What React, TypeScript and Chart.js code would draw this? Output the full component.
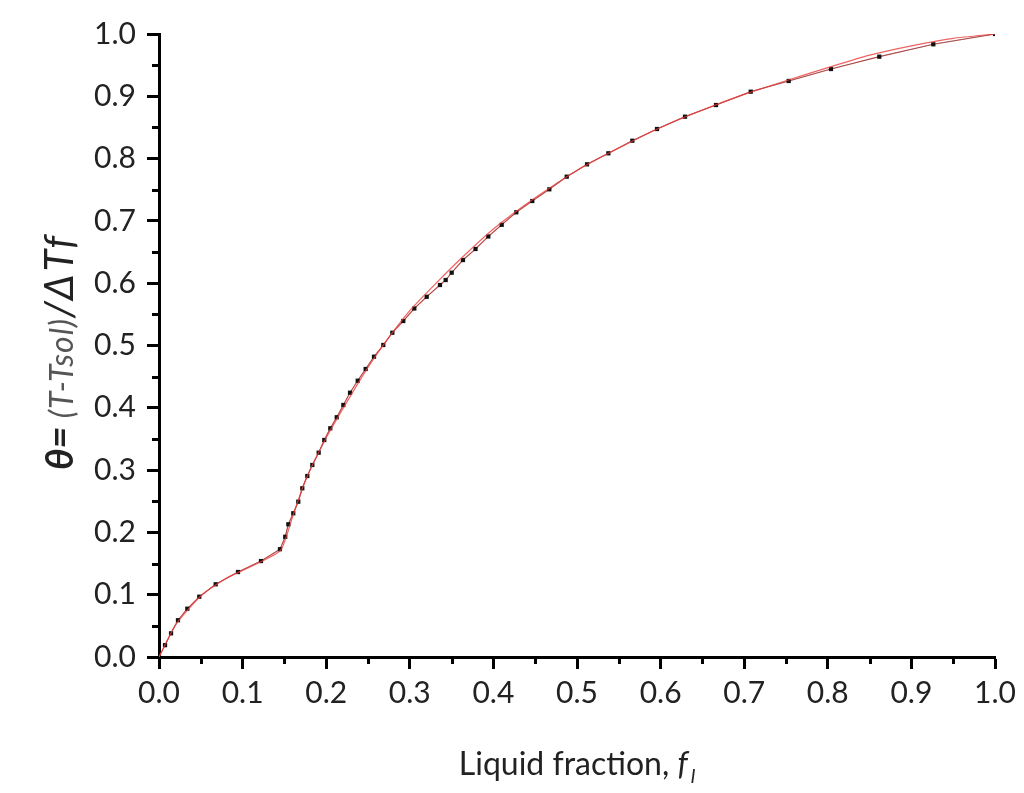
import React, { useEffect, useRef } from "react";
import { Chart, registerables } from "chart.js";

Chart.register(...registerables);

// Black square markers (simulation points)
const markerX = [
  0.0072, 0.0144, 0.0227, 0.0339, 0.0482, 0.0678, 0.0945, 0.122, 0.1447, 0.151,
  0.1547, 0.1606, 0.1666, 0.1714, 0.1774, 0.1834, 0.191, 0.1977, 0.2049, 0.2126,
  0.2205, 0.2285, 0.2377, 0.2472, 0.2572, 0.2683, 0.2791, 0.2922, 0.3054, 0.3202,
  0.3361, 0.3429, 0.3501, 0.3636, 0.3786, 0.3939, 0.4099, 0.4274, 0.4465, 0.4669,
  0.4877, 0.512, 0.5375, 0.5662, 0.5957, 0.6292, 0.6663, 0.7078, 0.7532, 0.8038,
  0.8616, 0.9262, 1.0,
];
const markerY = [
  0.019, 0.038, 0.059, 0.0775, 0.0968, 0.1167, 0.1364, 0.154, 0.173, 0.193,
  0.213, 0.2307, 0.2493, 0.2708, 0.2905, 0.3082, 0.328, 0.3483, 0.3671, 0.3848,
  0.4045, 0.4242, 0.4435, 0.4623, 0.482, 0.5008, 0.5205, 0.5393, 0.5594, 0.5782,
  0.5971, 0.6051, 0.6169, 0.6372, 0.6549, 0.675, 0.6937, 0.7138, 0.7319, 0.7507,
  0.771, 0.7908, 0.8085, 0.8287, 0.8475, 0.8673, 0.886, 0.9074, 0.9246, 0.9438,
  0.9636, 0.9835, 1.0,
];

// Red curve A (follows the markers)
const redAX = [0, ...markerX];
const redAY = [0, ...markerY];

// Red curve B (second red curve, slightly apart in places)
const redBX = [0, 0.02, 0.05, 0.08, 0.1, 0.125, 0.146, 0.16, 0.175, 0.2, 0.225, 0.25, 0.275, 0.3, 0.33, 0.36, 0.4, 0.45, 0.5, 0.55, 0.6, 0.65, 0.7, 0.75, 0.8, 0.85, 0.9, 0.95, 1.0];
const redBY = [0, 0.052, 0.098, 0.126, 0.139, 0.155, 0.172, 0.226, 0.283, 0.352, 0.41, 0.465, 0.513, 0.556, 0.598, 0.638, 0.687, 0.737, 0.781, 0.817, 0.85, 0.878, 0.903, 0.925, 0.946, 0.966, 0.981, 0.993, 1.0];

const tickLabels = ["0.0", "0.1", "0.2", "0.3", "0.4", "0.5", "0.6", "0.7", "0.8", "0.9", "1.0"];
const minorTicks = [0.05, 0.15, 0.25, 0.35, 0.45, 0.55, 0.65, 0.75, 0.85, 0.95];

const xTitleMain = "Liquid fraction, ";
const xTitleVar = "f";
const xTitleSub = "l";
const yTitleParts = ["θ= ", "(T-Tsol)", "/ΔTf"];

const FONT = "Lato, 'Open Sans', sans-serif";

const toPts = (xs: number[], ys: number[]) => xs.map((x, i) => ({ x, y: ys[i] }));

const decorPlugin = {
  id: "decor",
  afterDraw(chart: any) {
    const ctx = chart.ctx;
    const area = chart.chartArea;
    const xs = chart.scales.x;
    const ys = chart.scales.y;
    ctx.save();
    // minor ticks
    ctx.strokeStyle = "#000";
    ctx.lineWidth = 3;
    ctx.beginPath();
    minorTicks.forEach((v) => {
      const px = Math.round(xs.getPixelForValue(v)) + 0.5;
      ctx.moveTo(px, area.bottom);
      ctx.lineTo(px, area.bottom + 7);
      const py = Math.round(ys.getPixelForValue(v)) + 0.5;
      ctx.moveTo(area.left, py);
      ctx.lineTo(area.left - 7, py);
    });
    ctx.stroke();

    // x title
    ctx.fillStyle = "#222";
    ctx.textBaseline = "alphabetic";
    const fMain = `32px ${FONT}`;
    const fVar = `italic 32px ${FONT}`;
    const fSub = `italic 20px ${FONT}`;
    ctx.font = fMain;
    const w1 = ctx.measureText(xTitleMain).width;
    ctx.font = fVar;
    const w2 = ctx.measureText(xTitleVar).width + 3;
    ctx.font = fSub;
    const w3 = ctx.measureText(xTitleSub).width;
    const total = w1 + w2 + w3;
    let sx = (area.left + area.right) / 2 - total / 2;
    const base = 775;
    ctx.font = fMain;
    ctx.fillText(xTitleMain, sx, base);
    sx += w1;
    ctx.font = fVar;
    ctx.fillText(xTitleVar, sx, base);
    sx += w2;
    ctx.font = fSub;
    ctx.fillText(xTitleSub, sx, base + 8);

    // y title (rotated)
    const fonts = [`italic bold 38px ${FONT}`, `italic 32px ${FONT}`, `italic 40px ${FONT}`];
    const colors = ["#222", "#555", "#222"];
    const spacing = ["0px", "1px", "3px"];
    const widths = yTitleParts.map((t, i) => {
      ctx.font = fonts[i];
      (ctx as any).letterSpacing = spacing[i];
      return ctx.measureText(t).width;
    });
    const tw = widths.reduce((a, b) => a + b, 0);
    ctx.translate(73, (area.top + area.bottom) / 2 + 6);
    ctx.rotate(-Math.PI / 2);
    let cx = -tw / 2;
    yTitleParts.forEach((t, i) => {
      ctx.font = fonts[i];
      (ctx as any).letterSpacing = spacing[i];
      ctx.fillStyle = colors[i];
      ctx.fillText(t, cx, 0);
      cx += widths[i];
    });
    (ctx as any).letterSpacing = "0px";
    ctx.restore();
  },
};

export default function App() {
  const ref = useRef<HTMLCanvasElement | null>(null);
  useEffect(() => {
    if (!ref.current) return;
    const chart = new Chart(ref.current, {
      type: "scatter",
      data: {
        datasets: [
          {
            label: "red B",
            data: toPts(redBX, redBY),
            showLine: true,
            borderColor: "rgba(235,60,60,0.8)",
            borderWidth: 1.2,
            pointRadius: 0,
            tension: 0.2,
          },
          {
            label: "markers",
            data: toPts(markerX, markerY),
            showLine: true,
            borderColor: "rgba(60,60,60,0.45)",
            borderWidth: 1,
            pointStyle: "rect",
            pointRadius: 3,
            pointBackgroundColor: "#111",
            pointBorderColor: "#111",
            pointBorderWidth: 0,
          },
          {
            label: "red A",
            data: toPts(redAX, redAY),
            showLine: true,
            borderColor: "rgba(235,60,60,0.8)",
            borderWidth: 1.2,
            pointRadius: 0,
            tension: 0,
          },
        ],
      },
      options: {
        animation: false,
        responsive: true,
        maintainAspectRatio: false,
        layout: { padding: { top: 34, right: 29, bottom: 0, left: 0 } },
        plugins: { legend: { display: false }, tooltip: { enabled: false } },
        scales: {
          x: {
            type: "linear",
            min: 0,
            max: 1,
            afterFit: (s: any) => {
              s.height = 136;
            },
            afterBuildTicks: (s: any) => {
              s.ticks = tickLabels.map((_, i) => ({ value: i / 10 }));
            },
            ticks: {
              callback: (_v: any, i: number) => tickLabels[i],
              color: "#222",
              font: { family: FONT, size: 30 },
              padding: 6,
              maxRotation: 0,
            },
            grid: {
              display: true,
              drawOnChartArea: false,
              drawTicks: true,
              tickLength: 12,
              tickWidth: 3,
              tickColor: "#000",
            },
            border: { display: true, color: "#000", width: 3 },
          },
          y: {
            type: "linear",
            min: 0,
            max: 1,
            afterFit: (s: any) => {
              s.width = 159;
            },
            afterBuildTicks: (s: any) => {
              s.ticks = tickLabels.map((_, i) => ({ value: i / 10 }));
            },
            ticks: {
              callback: (_v: any, i: number) => tickLabels[i],
              color: "#222",
              font: { family: FONT, size: 30 },
              padding: 11,
            },
            grid: {
              display: true,
              drawOnChartArea: false,
              drawTicks: true,
              tickLength: 12,
              tickWidth: 3,
              tickColor: "#000",
            },
            border: { display: true, color: "#000", width: 3 },
          },
        },
      },
      plugins: [decorPlugin],
    });
    return () => chart.destroy();
  }, []);
  return (
    <div style={{ position: "fixed", left: 0, top: 0, width: 1024, height: 793, background: "#fff" }}>
      <canvas ref={ref} />
    </div>
  );
}
